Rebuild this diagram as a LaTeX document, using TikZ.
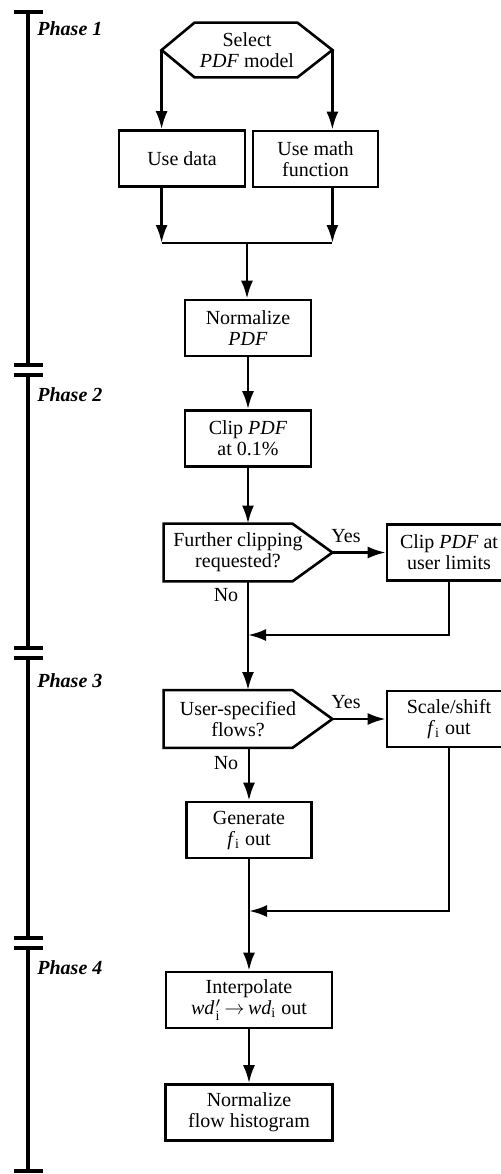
\documentclass[tikz,border=0pt]{standalone}
\usepackage{fontspec}
\setmainfont{Liberation Serif}
\usepackage{amsmath}
\usetikzlibrary{arrows.meta}

\begin{document}
\begin{tikzpicture}[x=0.5pt,y=-0.5pt,
  box/.style={draw,line width=1.3pt,minimum width=#1,minimum height=28pt,inner sep=1pt,align=center,font=\fontsize{10}{10.5}\selectfont},
  box/.default=63pt,
  txt/.style={inner sep=0pt,font=\fontsize{10}{10.5}\selectfont},
  ask/.style={minimum width=74pt,minimum height=28.5pt,inner sep=1pt,align=center,font=\fontsize{10}{10.5}\selectfont},
  phase/.style={anchor=west,inner sep=0pt,font=\fontsize{10}{12}\selectfont\bfseries\itshape},
  outline/.style={line width=1.3pt},
  flow/.style={line width=1.3pt,-{Latex[length=9pt,width=6pt]}}]
\useasboundingbox (0,0) rectangle (501,1174);

%phase bars
\foreach \a/\b in {12/365,375/648,658/938,948/1171}{
  \draw[line width=2.4pt] (28,\a) -- (28,\b);
  \draw[line width=2.2pt] (14,\a) -- (43,\a) (14,\b) -- (43,\b);
}
\node[phase] (p1) at (37,29) {Phase 1};
\node[phase] (p2) at (37,395) {Phase 2};
\node[phase] (p3) at (37,681) {Phase 3};
\node[phase] (p4) at (37,968) {Phase 4};

%select model
\node[txt,minimum width=85pt,minimum height=27pt,align=center] (sel) at (247,50) {Select\\\textit{PDF} model};
\draw[outline] (sel.west) -- ([xshift=16.5pt]sel.north west) -- ([xshift=-17.5pt]sel.north east)
  -- (sel.east) -- ([xshift=-17.5pt]sel.south east) -- ([xshift=16.5pt]sel.south west) -- cycle;

%boxes
\node[box] (data) at (182,158.5) {Use data};
\node[box=62.5pt] (math) at (315.5,159) {Use math\\function};
\node[box] (norm) at (248,328) {Normalize\\\textit{PDF}};
\node[box] (clip) at (248,438.5) {Clip \textit{PDF}\\at 0.1\%};
\node[box=62pt] (lim) at (449,552.5) {Clip \textit{PDF} at\\user limits};
\node[box=62pt] (scl) at (449,719) {Scale/shift\\\textit{f}\textsubscript{i} out};
\node[box=62.5pt] (gen) at (249,830) {Generate\\\textit{f}\textsubscript{i} out};
\node[box=83pt] (interp) at (249,1000) {Interpolate\\\textit{wd}\kern0.6pt$'_{\text{i}}$\,$\rightarrow$\,\textit{wd}\textsubscript{i} out};
\node[box=83.5pt] (hist) at (249,1112.5) {Normalize\\flow histogram};

%decisions
\node[ask] (dec1) at (238,552.5) {Further clipping\\requested?};
\node[ask] (dec2) at (238,719) {User-specified\\flows?};
\foreach \d in {dec1,dec2}
  \draw[outline] (\d.north west) -- ([xshift=-10pt]\d.north east) -- ([xshift=10pt]\d.east)
    -- ([xshift=-10pt]\d.south east) -- (\d.south west) -- cycle;
\node[txt] (yes1) at (346,536) {Yes};
\node[txt] (no1) at (226,595) {No};
\node[txt] (yes2) at (346,702) {Yes};
\node[txt] (no2) at (226,763) {No};

%joins
\coordinate (join) at (247,243);
\coordinate (m1) at (248,635);
\coordinate (m2) at (249,911);

%arrows
\draw[flow] (sel.west) -- (sel.west |- data.north);
\draw[flow] (sel.east) -- (sel.east |- math.north);
\draw[flow] (sel.west |- data.south) -- (sel.west |- join);
\draw[flow] (sel.east |- math.south) -- (sel.east |- join);
\draw[outline] (sel.west |- join) -- (sel.east |- join);
\draw[flow] (join) -- (join |- norm.north);
\draw[flow] (norm) -- (clip);
\draw[flow] (clip.south) -- (clip.south |- dec1.north);
\draw[flow] ([xshift=10pt]dec1.east) -- (lim.west);
\draw[flow] (lim.south) |- (m1);
\draw[flow] (clip.south |- dec1.south) -- (clip.south |- dec2.north);
\draw[flow] ([xshift=10pt]dec2.east) -- (scl.west);
\draw[flow] (gen.north |- dec2.south) -- (gen.north);
\draw[flow] (scl.south) |- (m2);
\draw[flow] (gen) -- (interp);
\draw[flow] (interp) -- (hist);
\end{tikzpicture}
\end{document}
